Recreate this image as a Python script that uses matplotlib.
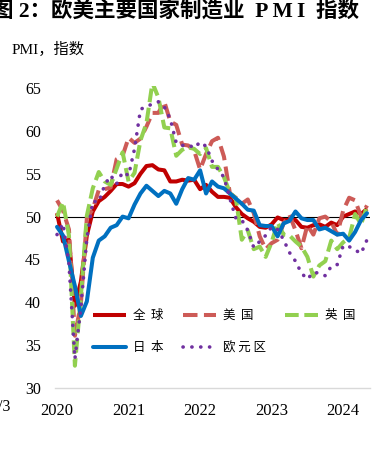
import matplotlib
matplotlib.use("Agg")
import matplotlib.pyplot as plt
import numpy as np

# ---- data (monthly, 2020-01 .. 2024-05) ----
year_labels = ["2020", "2021", "2022", "2023", "2024"]
series_names = ["全球", "美国", "英国", "日本", "欧元区"]

global_pmi = [50.4, 47.1, 47.3, 39.6, 42.4, 47.8, 50.6, 51.8, 52.3, 53.0, 53.8, 53.8,
              53.5, 53.9, 55.0, 55.9, 56.0, 55.5, 55.4, 54.1, 54.1, 54.3, 54.2, 54.3,
              53.2, 53.7, 52.9, 52.3, 52.3, 52.2, 51.1, 50.3, 49.8, 49.4, 48.8, 48.7,
              49.1, 49.9, 49.6, 49.6, 49.6, 48.8, 48.7, 49.0, 49.1, 48.8, 49.3, 49.0,
              50.0, 50.3, 50.6, 50.3, 50.9]
us_pmi = [51.9, 50.7, 48.5, 36.1, 39.8, 49.8, 50.9, 53.1, 53.2, 53.4, 56.7, 57.1,
          59.2, 58.6, 59.1, 60.5, 62.1, 62.1, 63.4, 61.1, 60.7, 58.4, 58.3, 57.7,
          55.5, 57.3, 58.8, 59.2, 57.0, 52.7, 52.2, 51.5, 52.0, 50.4, 47.7, 46.2,
          46.9, 47.3, 49.2, 50.2, 48.4, 46.3, 49.0, 47.9, 49.8, 50.0, 49.4, 47.9,
          50.7, 52.2, 51.9, 50.0, 51.3]
uk_pmi = [50.0, 51.7, 47.8, 32.6, 40.7, 50.1, 53.3, 55.2, 54.1, 53.7, 55.6, 57.5,
          54.1, 55.1, 58.9, 60.9, 65.6, 63.9, 60.4, 60.3, 57.1, 57.8, 58.1, 57.9,
          57.3, 58.0, 55.8, 55.8, 54.6, 52.8, 52.1, 47.3, 48.4, 46.2, 46.5, 45.3,
          47.0, 49.3, 47.9, 47.8, 47.1, 46.5, 45.3, 43.0, 44.3, 44.8, 47.2, 46.2,
          47.0, 47.5, 50.3, 49.1, 51.2]
japan_pmi = [48.8, 47.8, 44.8, 41.9, 38.4, 40.1, 45.2, 47.2, 47.7, 48.7, 49.0, 50.0,
             49.8, 51.4, 52.7, 53.6, 53.0, 52.4, 53.0, 52.7, 51.5, 53.2, 54.5, 54.3,
             55.4, 52.7, 54.1, 53.5, 53.3, 52.7, 52.1, 51.5, 50.8, 50.7, 49.0, 48.9,
             48.9, 47.7, 49.2, 49.5, 50.6, 49.8, 49.6, 49.6, 48.5, 48.7, 48.3, 47.9,
             48.0, 47.2, 48.2, 49.6, 50.4]
euro_pmi = [47.9, 49.2, 44.5, 33.4, 39.4, 47.4, 51.8, 51.7, 53.7, 54.8, 53.8, 55.2,
            54.8, 57.9, 62.5, 62.9, 63.1, 63.4, 62.8, 61.4, 58.6, 58.3, 58.4, 58.0,
            58.7, 58.2, 56.5, 55.5, 54.6, 52.1, 49.8, 49.6, 48.4, 46.4, 47.1, 47.8,
            48.8, 48.5, 47.3, 45.8, 44.8, 43.4, 42.7, 43.5, 43.4, 43.1, 44.2, 44.4,
            46.6, 46.5, 46.1, 45.7, 47.3]
y_ticks = [30, 35, 40, 45, 50, 55, 60, 65]

CJK = ["Liberation Serif", "Noto Sans CJK SC", "DejaVu Sans"]
plt.rcParams["font.family"] = CJK

W, H = 384, 453
Y_TOP = 65.25
fig = plt.figure(figsize=(W / 100, H / 100), dpi=100)
ax = fig.add_axes([55 / W, (H - 388) / H, 315 / W, (Y_TOP - 30) * 8.57 / H])

x = np.arange(len(global_pmi))
lw = 2.9
l_g, = ax.plot(x, global_pmi, color="#C00000", lw=lw, solid_capstyle="butt", solid_joinstyle="round")
l_us, = ax.plot(x, us_pmi, color="#CD5B57", lw=lw, linestyle=(0, (3.6, 1.6)), dash_capstyle="butt")
l_uk, = ax.plot(x, uk_pmi, color="#92D050", lw=lw, linestyle=(0, (3.4, 1.4)), dash_capstyle="butt")
l_jp, = ax.plot(x, japan_pmi, color="#0070C0", lw=lw, solid_joinstyle="round", solid_capstyle="round")
l_eu, = ax.plot(x, euro_pmi, color="#7030A0", lw=2.6, linestyle=(0, (0.05, 2.4)), dash_capstyle="round")

ax.axhline(50, color="black", lw=0.8, zorder=1)

ax.set_xlim(-0.34, 52.5)
ax.set_ylim(30, Y_TOP)
ax.set_yticks(y_ticks)
ax.set_yticklabels([str(v) for v in y_ticks], fontsize=11.5, family="Liberation Serif")
ax.set_xticks([0, 12, 24, 36, 48])
ax.set_xticklabels(year_labels, fontsize=12, family="Liberation Serif")
ax.tick_params(axis="both", length=0)
ax.tick_params(axis="y", pad=10)
ax.tick_params(axis="x", pad=11)
for s in ("top", "right", "left"):
    ax.spines[s].set_visible(False)
ax.spines["bottom"].set_color("#D9D9D9")
ax.spines["bottom"].set_linewidth(1.0)
ax.spines["bottom"].set_clip_on(False)

handles = [l_g, l_jp, l_us, l_eu, l_uk]
labels = ["全  球", "日  本", "美  国", "欧 元 区", "英  国"]
leg = fig.legend(handles, labels, loc="upper left", bbox_to_anchor=(93 / W, 1 - 309 / H),
                 ncol=3, frameon=False, handlelength=2.65, handletextpad=0.55,
                 columnspacing=1.55, labelspacing=1.55, borderpad=0, borderaxespad=0,
                 prop={"family": ["Noto Sans CJK SC", "DejaVu Sans"], "size": 9})

fig.text(-8 / W, 1 - 11 / H, "图 2：欧美主要国家制造业  P\u2009M\u2009I  指数", fontsize=15.5,
         fontweight="bold", ha="left", va="center", family=CJK)
fig.text(12 / W, 1 - 49 / H, "PMI，指数", fontsize=11, ha="left", va="center", family=CJK)
fig.text(-2 / W, 1 - 407 / H, "/3", fontsize=11.5, ha="left", va="center", family="Liberation Serif")

fig.savefig("out.png", dpi=100)
